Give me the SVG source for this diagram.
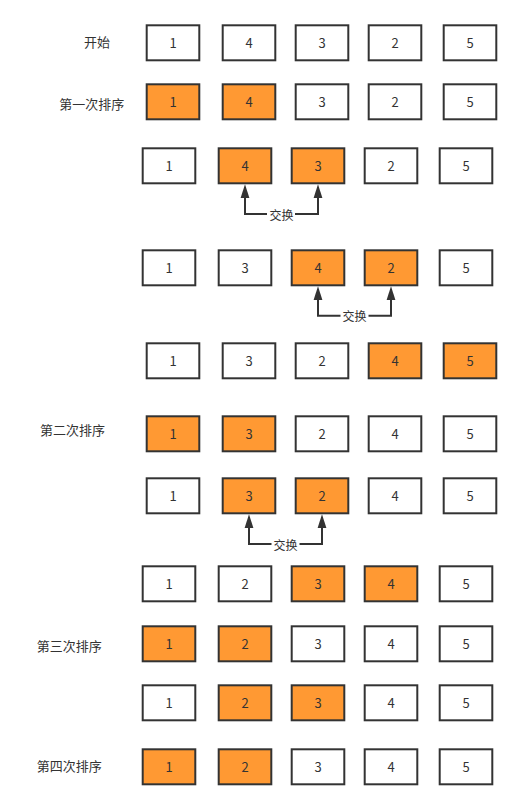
<svg xmlns="http://www.w3.org/2000/svg" width="522" height="810" viewBox="0 0 522 810">
<defs>
<style>
.b{fill:#fff;stroke:#333;stroke-width:2}
.o{fill:#FF9933;stroke:#333;stroke-width:2}
.t{font-family:"Noto Sans CJK SC","Liberation Sans",sans-serif;font-size:13px;fill:#333;text-anchor:middle;dominant-baseline:central}
.lab{font-family:"Noto Sans CJK SC","Liberation Sans",sans-serif;font-size:13px;fill:#333;text-anchor:middle;dominant-baseline:central}
.el{font-family:"Noto Sans CJK SC","Liberation Sans",sans-serif;font-size:12px;fill:#333;text-anchor:middle;dominant-baseline:central}
.c{fill:none;stroke:#333;stroke-width:2;marker-start:url(#ah);marker-end:url(#ah)}
</style>
<marker id="ah" markerUnits="userSpaceOnUse" markerWidth="14" markerHeight="10" viewBox="0 0 14 10" refX="11" refY="5" orient="auto-start-reverse">
<polygon points="0,0.5 14,5 0,9.5" fill="#333"/>
</marker>
</defs>
<rect width="522" height="810" fill="#fff"/>

<g id="labels">
<text class="lab" x="97" y="41.7">开始</text>
<text class="lab" x="91.7" y="103">第一次排序</text>
<text class="lab" x="72.5" y="429.3">第二次排序</text>
<text class="lab" x="69.2" y="645">第三次排序</text>
<text class="lab" x="69.2" y="765.7">第四次排序</text>
</g>

<g id="row1">
<g id="r1c1"><rect class="b" x="146.7" y="25.3" width="52.6" height="35"/><text class="t" x="173" y="42.8">1</text></g>
<g id="r1c2"><rect class="b" x="222.7" y="25.3" width="52.6" height="35"/><text class="t" x="249" y="42.8">4</text></g>
<g id="r1c3"><rect class="b" x="295.7" y="25.3" width="52.6" height="35"/><text class="t" x="322" y="42.8">3</text></g>
<g id="r1c4"><rect class="b" x="368.7" y="25.3" width="52.6" height="35"/><text class="t" x="395" y="42.8">2</text></g>
<g id="r1c5"><rect class="b" x="443.7" y="25.3" width="52.6" height="35"/><text class="t" x="470" y="42.8">5</text></g>
</g>

<g id="row2">
<g id="r2c1"><rect class="o" x="146.7" y="84.3" width="52.6" height="35"/><text class="t" x="173" y="101.8">1</text></g>
<g id="r2c2"><rect class="o" x="222.7" y="84.3" width="52.6" height="35"/><text class="t" x="249" y="101.8">4</text></g>
<g id="r2c3"><rect class="b" x="295.7" y="84.3" width="52.6" height="35"/><text class="t" x="322" y="101.8">3</text></g>
<g id="r2c4"><rect class="b" x="368.7" y="84.3" width="52.6" height="35"/><text class="t" x="395" y="101.8">2</text></g>
<g id="r2c5"><rect class="b" x="443.7" y="84.3" width="52.6" height="35"/><text class="t" x="470" y="101.8">5</text></g>
</g>

<g id="row3">
<g id="r3c1"><rect class="b" x="142.7" y="148.3" width="52.6" height="35"/><text class="t" x="169" y="165.8">1</text></g>
<g id="r3c2"><rect class="o" x="218.7" y="148.3" width="52.6" height="35"/><text class="t" x="245" y="165.8">4</text></g>
<g id="r3c3"><rect class="o" x="291.7" y="148.3" width="52.6" height="35"/><text class="t" x="318" y="165.8">3</text></g>
<g id="r3c4"><rect class="b" x="364.7" y="148.3" width="52.6" height="35"/><text class="t" x="391" y="165.8">2</text></g>
<g id="r3c5"><rect class="b" x="439.7" y="148.3" width="52.6" height="35"/><text class="t" x="466" y="165.8">5</text></g>
</g>

<g id="row4">
<g id="r4c1"><rect class="b" x="142.7" y="250.3" width="52.6" height="35"/><text class="t" x="169" y="267.8">1</text></g>
<g id="r4c2"><rect class="b" x="218.7" y="250.3" width="52.6" height="35"/><text class="t" x="245" y="267.8">3</text></g>
<g id="r4c3"><rect class="o" x="291.7" y="250.3" width="52.6" height="35"/><text class="t" x="318" y="267.8">4</text></g>
<g id="r4c4"><rect class="o" x="364.7" y="250.3" width="52.6" height="35"/><text class="t" x="391" y="267.8">2</text></g>
<g id="r4c5"><rect class="b" x="439.7" y="250.3" width="52.6" height="35"/><text class="t" x="466" y="267.8">5</text></g>
</g>

<g id="row5">
<g id="r5c1"><rect class="b" x="146.7" y="343.3" width="52.6" height="35"/><text class="t" x="173" y="360.8">1</text></g>
<g id="r5c2"><rect class="b" x="222.7" y="343.3" width="52.6" height="35"/><text class="t" x="249" y="360.8">3</text></g>
<g id="r5c3"><rect class="b" x="295.7" y="343.3" width="52.6" height="35"/><text class="t" x="322" y="360.8">2</text></g>
<g id="r5c4"><rect class="o" x="368.7" y="343.3" width="52.6" height="35"/><text class="t" x="395" y="360.8">4</text></g>
<g id="r5c5"><rect class="o" x="443.7" y="343.3" width="52.6" height="35"/><text class="t" x="470" y="360.8">5</text></g>
</g>

<g id="row6">
<g id="r6c1"><rect class="o" x="146.7" y="416.3" width="52.6" height="35"/><text class="t" x="173" y="433.8">1</text></g>
<g id="r6c2"><rect class="o" x="222.7" y="416.3" width="52.6" height="35"/><text class="t" x="249" y="433.8">3</text></g>
<g id="r6c3"><rect class="b" x="295.7" y="416.3" width="52.6" height="35"/><text class="t" x="322" y="433.8">2</text></g>
<g id="r6c4"><rect class="b" x="368.7" y="416.3" width="52.6" height="35"/><text class="t" x="395" y="433.8">4</text></g>
<g id="r6c5"><rect class="b" x="443.7" y="416.3" width="52.6" height="35"/><text class="t" x="470" y="433.8">5</text></g>
</g>

<g id="row7">
<g id="r7c1"><rect class="b" x="146.7" y="478.3" width="52.6" height="35"/><text class="t" x="173" y="495.8">1</text></g>
<g id="r7c2"><rect class="o" x="222.7" y="478.3" width="52.6" height="35"/><text class="t" x="249" y="495.8">3</text></g>
<g id="r7c3"><rect class="o" x="295.7" y="478.3" width="52.6" height="35"/><text class="t" x="322" y="495.8">2</text></g>
<g id="r7c4"><rect class="b" x="368.7" y="478.3" width="52.6" height="35"/><text class="t" x="395" y="495.8">4</text></g>
<g id="r7c5"><rect class="b" x="443.7" y="478.3" width="52.6" height="35"/><text class="t" x="470" y="495.8">5</text></g>
</g>

<g id="row8">
<g id="r8c1"><rect class="b" x="142.7" y="566.3" width="52.6" height="35"/><text class="t" x="169" y="583.8">1</text></g>
<g id="r8c2"><rect class="b" x="218.7" y="566.3" width="52.6" height="35"/><text class="t" x="245" y="583.8">2</text></g>
<g id="r8c3"><rect class="o" x="291.7" y="566.3" width="52.6" height="35"/><text class="t" x="318" y="583.8">3</text></g>
<g id="r8c4"><rect class="o" x="364.7" y="566.3" width="52.6" height="35"/><text class="t" x="391" y="583.8">4</text></g>
<g id="r8c5"><rect class="b" x="439.7" y="566.3" width="52.6" height="35"/><text class="t" x="466" y="583.8">5</text></g>
</g>

<g id="row9">
<g id="r9c1"><rect class="o" x="142.7" y="626.3" width="52.6" height="35"/><text class="t" x="169" y="643.8">1</text></g>
<g id="r9c2"><rect class="o" x="218.7" y="626.3" width="52.6" height="35"/><text class="t" x="245" y="643.8">2</text></g>
<g id="r9c3"><rect class="b" x="291.7" y="626.3" width="52.6" height="35"/><text class="t" x="318" y="643.8">3</text></g>
<g id="r9c4"><rect class="b" x="364.7" y="626.3" width="52.6" height="35"/><text class="t" x="391" y="643.8">4</text></g>
<g id="r9c5"><rect class="b" x="439.7" y="626.3" width="52.6" height="35"/><text class="t" x="466" y="643.8">5</text></g>
</g>

<g id="row10">
<g id="r10c1"><rect class="b" x="142.7" y="685.3" width="52.6" height="35"/><text class="t" x="169" y="702.8">1</text></g>
<g id="r10c2"><rect class="o" x="218.7" y="685.3" width="52.6" height="35"/><text class="t" x="245" y="702.8">2</text></g>
<g id="r10c3"><rect class="o" x="291.7" y="685.3" width="52.6" height="35"/><text class="t" x="318" y="702.8">3</text></g>
<g id="r10c4"><rect class="b" x="364.7" y="685.3" width="52.6" height="35"/><text class="t" x="391" y="702.8">4</text></g>
<g id="r10c5"><rect class="b" x="439.7" y="685.3" width="52.6" height="35"/><text class="t" x="466" y="702.8">5</text></g>
</g>

<g id="row11">
<g id="r11c1"><rect class="o" x="142.7" y="749.3" width="52.6" height="35"/><text class="t" x="169" y="766.8">1</text></g>
<g id="r11c2"><rect class="o" x="218.7" y="749.3" width="52.6" height="35"/><text class="t" x="245" y="766.8">2</text></g>
<g id="r11c3"><rect class="b" x="291.7" y="749.3" width="52.6" height="35"/><text class="t" x="318" y="766.8">3</text></g>
<g id="r11c4"><rect class="b" x="364.7" y="749.3" width="52.6" height="35"/><text class="t" x="391" y="766.8">4</text></g>
<g id="r11c5"><rect class="b" x="439.7" y="749.3" width="52.6" height="35"/><text class="t" x="466" y="766.8">5</text></g>
</g>

<g id="connectors">
<path class="c" d="M245 187.3 V214 H318 V187.3"/>
<rect x="267" y="206" width="28" height="16" fill="#fff"/>
<text class="el" x="281.5" y="214">交换</text>
<path class="c" d="M318 289.3 V315.7 H391 V289.3"/>
<rect x="340.5" y="307.7" width="28" height="16" fill="#fff"/>
<text class="el" x="354.5" y="315.7">交换</text>
<path class="c" d="M249 517.3 V544 H322 V517.3"/>
<rect x="271.5" y="536" width="28" height="16" fill="#fff"/>
<text class="el" x="285.5" y="544">交换</text>
</g>
</svg>
